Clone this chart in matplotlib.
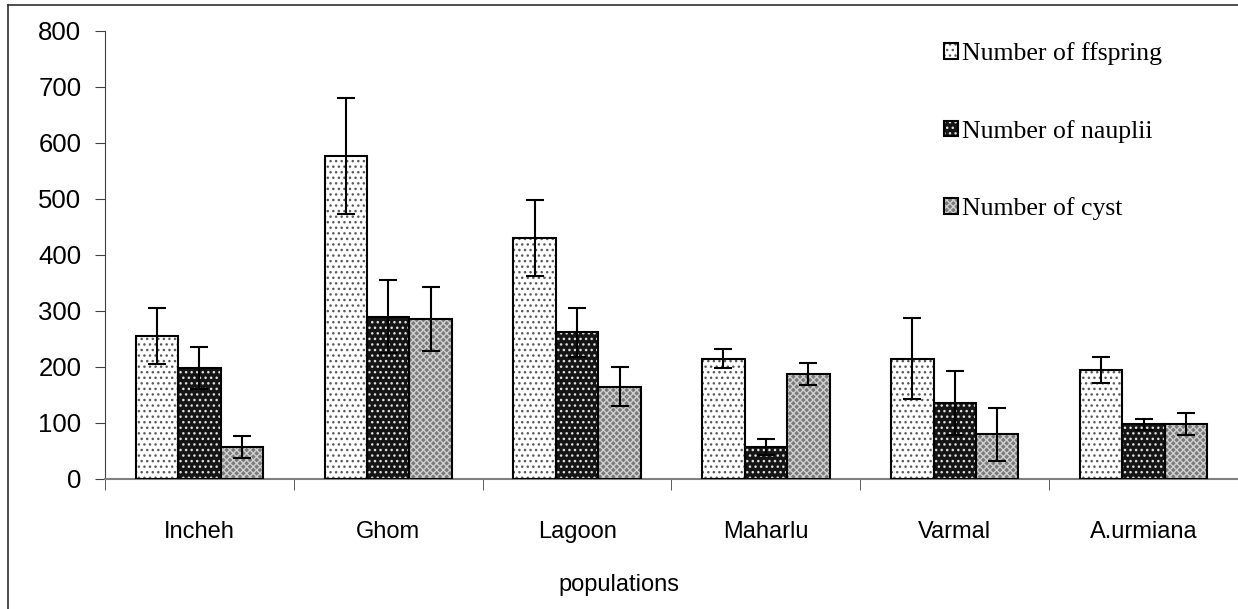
import numpy as np
import matplotlib
matplotlib.use("Agg")
import matplotlib.pyplot as plt
from matplotlib.lines import Line2D

# data
populations = ["Incheh", "Ghom", "Lagoon", "Maharlu", "Varmal", "A.urmiana"]
ffspring = [255, 577, 430, 215, 215, 195]
ffspring_err = [50, 103, 68, 17, 72, 23]
nauplii = [198, 290, 262, 57, 135, 98]
nauplii_err = [37, 65, 44, 14, 57, 10]
cyst = [57, 285, 165, 188, 80, 98]
cyst_err = [20, 57, 35, 20, 47, 20]

series_labels = ["Number of ffspring", "Number of nauplii", "Number of cyst"]

plt.rcParams["font.family"] = ["Liberation Sans", "DejaVu Sans"]
plt.rcParams["hatch.linewidth"] = 1.0

fig = plt.figure(figsize=(12.38, 6.09), dpi=100)
ax = fig.add_axes([105 / 1238, 1 - 479 / 609, 1 - 105 / 1238, (479 - 31) / 609])

x = np.arange(len(populations))
w = 0.225
styles = [
    dict(facecolor="white", hatch_color="#5a5a5a", hatch="..."),
    dict(facecolor="#151515", hatch_color="#e0e0e0", hatch="..."),
    dict(facecolor="#7a7a7a", hatch_color="#d0d0d0", hatch="xxxxx"),
]
handles = []
for i, (vals, errs) in enumerate([(ffspring, ffspring_err), (nauplii, nauplii_err), (cyst, cyst_err)]):
    st = styles[i]
    pos = x + (i - 1) * w
    fill = ax.bar(pos, vals, w, color=st["facecolor"], edgecolor=st["hatch_color"],
                  hatch=st["hatch"], linewidth=0, zorder=2)
    edge = ax.bar(pos, vals, w, facecolor="none", edgecolor="black", linewidth=1.5, zorder=3)
    ax.errorbar(pos, vals, yerr=errs, fmt="none", ecolor="black", elinewidth=1.5,
                capsize=6.5, capthick=1.5, zorder=4)
    handles.append((fill[0], edge[0]))

ax.set_xlim(-0.5, 5.5)
ax.set_ylim(0, 800)
ax.set_yticks(range(0, 801, 100))
ax.set_xticks(x)
ax.set_xticklabels(populations)
ax.set_xticks(np.arange(-0.5, 6.0, 1.0), minor=True)
ax.tick_params(axis="x", which="major", length=0, pad=30, labelsize=17)
ax.tick_params(axis="x", which="minor", length=8, direction="out", color="#404040")
ax.tick_params(axis="y", length=7, direction="out", pad=10, labelsize=18.5, color="#404040")

for s in ["top", "right"]:
    ax.spines[s].set_visible(False)
ax.spines["left"].set_color("#404040")
ax.spines["bottom"].set_color("#808080")
ax.spines["bottom"].set_linewidth(1.5)

fig.text(0.5, 1 - 585 / 609, "populations", ha="center", va="center", fontsize=17)

fig.legend(handles, series_labels, loc="upper left", bbox_to_anchor=(921 / 1238, 1 - 19 / 609),
           frameon=False, prop={"family": ["Liberation Serif", "DejaVu Serif"], "size": 18.5},
           handlelength=0.55, handleheight=0.55, handletextpad=0.15, labelspacing=2.12)

# chart border (left and top edges visible)
fig.add_artist(Line2D([8 / 1238, 8 / 1238], [0, 1 - 5 / 609], color="#303030", lw=1.2))
fig.add_artist(Line2D([8 / 1238, 1], [1 - 5 / 609, 1 - 5 / 609], color="#303030", lw=1.2))

fig.savefig("out.png", dpi=100)
